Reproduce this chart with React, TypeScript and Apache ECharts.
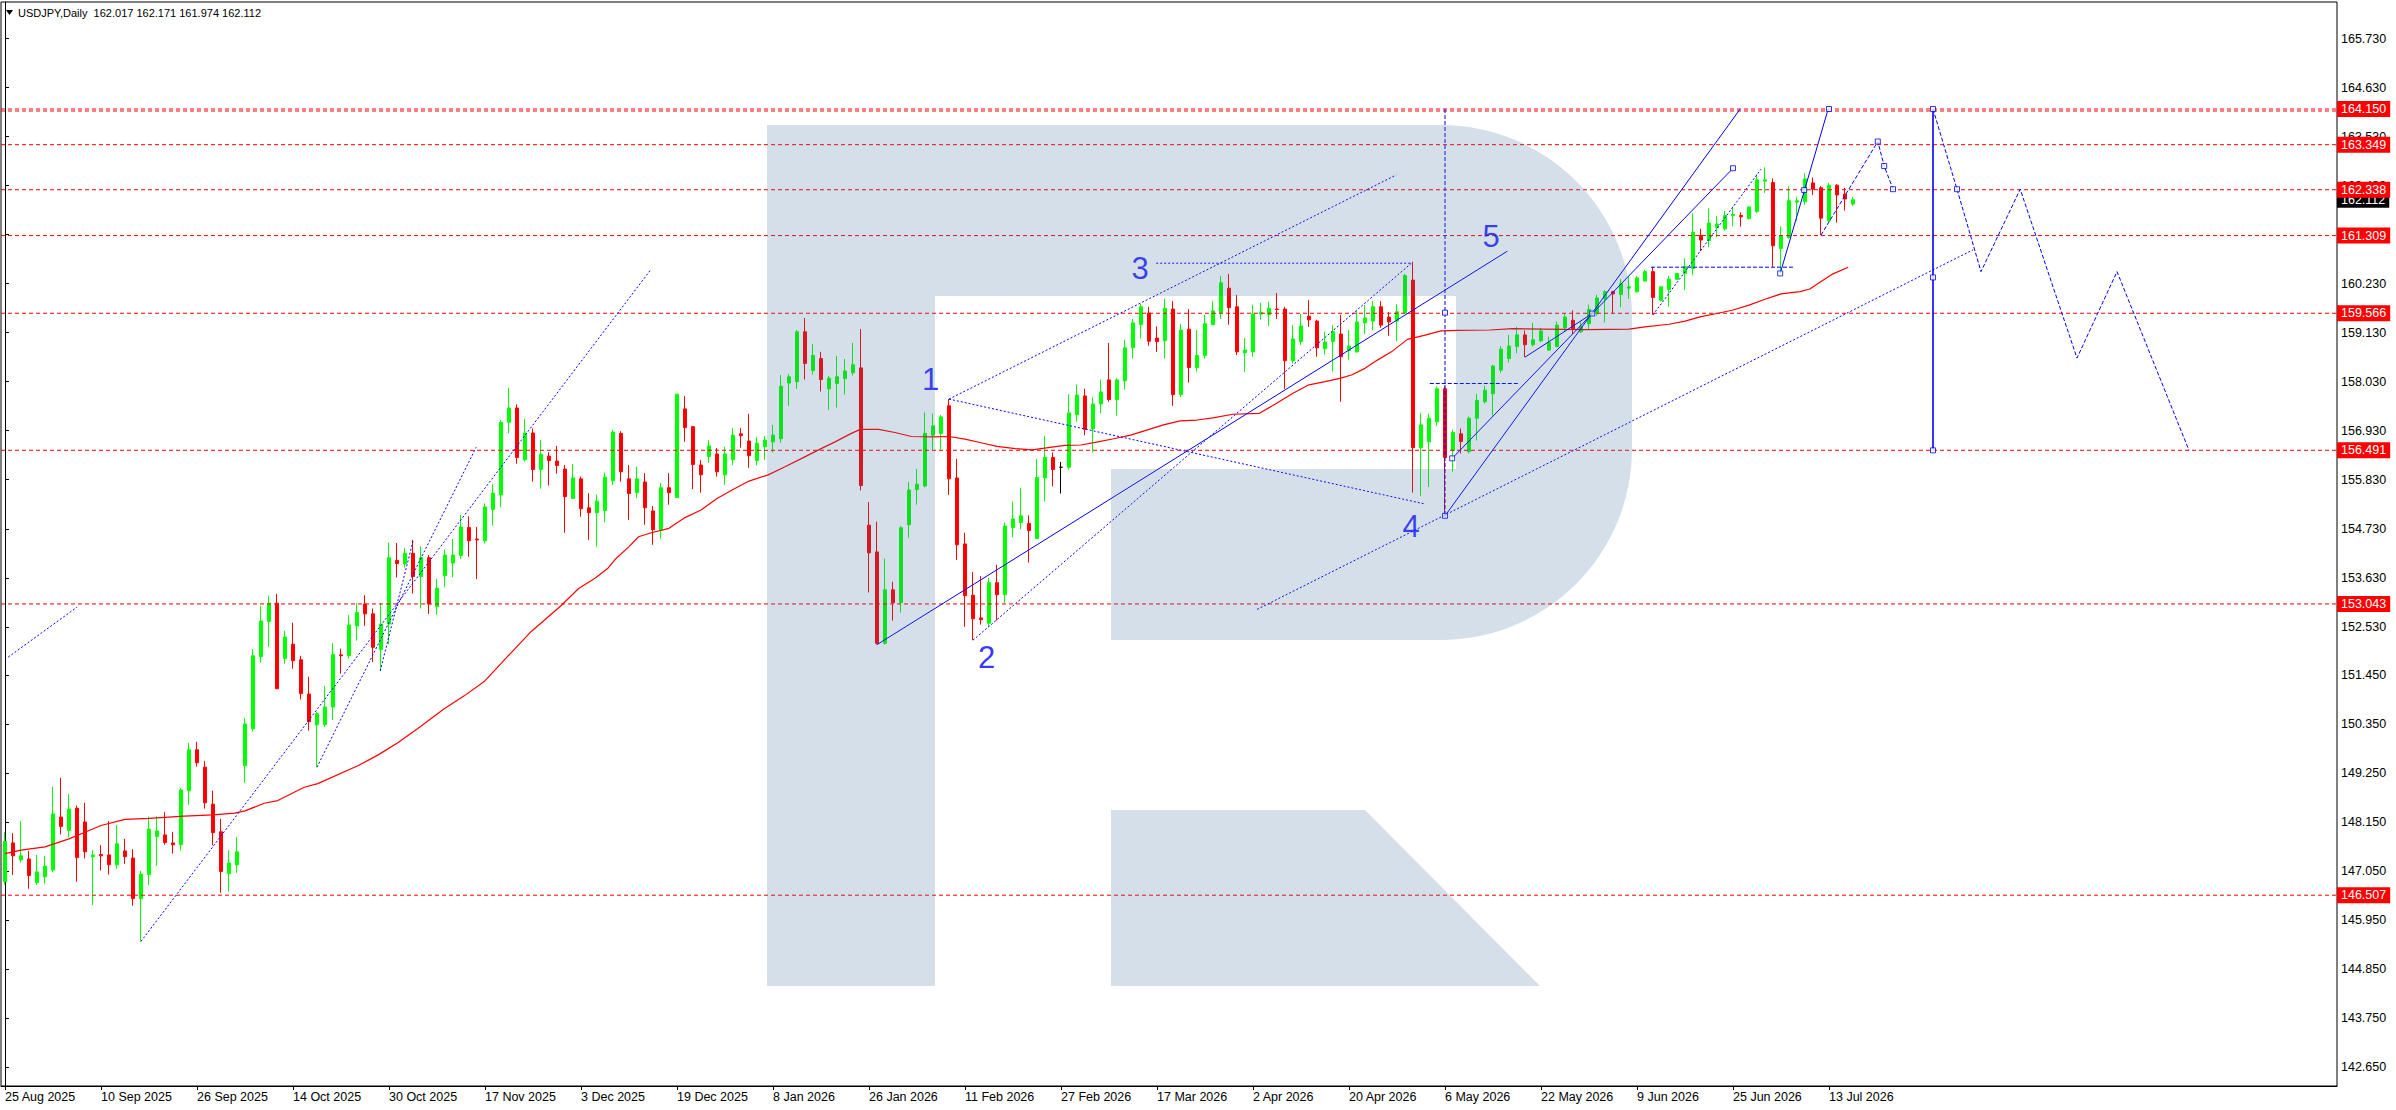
import React, { useEffect, useRef } from "react";
import * as echarts from "echarts";

const W = 2396;
const H = 1110;
const FONT = '"Liberation Sans", Arial, sans-serif';

// ---- data -------------------------------------------------------------
// daily candles [open, high, low, close], index 0 = 25 Aug 2025
const CANDLES: number[][] = [
  [146.81,147.92,146.74,147.71],[147.68,147.90,146.96,147.39],[147.30,148.17,147.24,147.39],[147.32,147.50,146.65,146.95],
  [146.79,147.41,146.74,147.03],[146.92,147.39,146.77,147.16],[147.07,148.94,147.03,148.33],[148.26,149.14,147.87,148.05],
  [147.96,148.78,147.80,148.44],[148.46,148.52,146.81,147.35],[148.15,148.58,147.33,147.48],[147.37,147.52,146.29,147.41],
  [147.42,147.63,147.06,147.39],[147.41,148.17,146.97,147.19],[147.19,148.08,147.10,147.66],[147.50,147.77,147.21,147.37],
  [147.34,147.54,146.27,146.43],[146.43,147.05,145.47,146.98],[146.97,148.27,146.74,147.99],[147.82,148.28,147.17,147.95],
  [147.86,148.37,147.64,147.69],[147.68,147.93,147.44,147.64],[147.64,148.91,147.51,148.87],[148.85,149.92,148.54,149.77],
  [149.77,149.95,149.39,149.48],[149.38,149.52,148.45,148.58],[148.55,148.85,147.63,147.91],[147.93,148.22,146.56,147.04],
  [146.99,147.52,146.59,147.23],[147.19,147.81,147.01,147.48],[149.41,150.48,149.03,150.35],[150.24,152.03,150.18,151.88],
  [151.86,153.00,151.73,152.66],[152.65,153.23,152.08,153.06],[153.06,153.27,151.14,151.14],[151.82,152.44,151.70,152.30],
  [152.14,152.62,151.59,151.77],[151.79,151.88,150.90,151.03],[151.02,151.41,150.20,150.40],[150.33,150.62,149.38,150.58],
  [150.33,151.20,150.28,150.73],[150.73,152.16,150.44,151.91],[151.90,152.04,151.48,151.88],[151.88,152.79,151.82,152.57],
  [152.55,153.06,152.22,152.85],[153.04,153.24,152.55,152.82],[152.82,152.94,151.74,152.07],[152.02,153.06,151.54,152.59],
  [152.59,154.42,152.14,154.08],[154.02,154.41,153.64,153.95],[153.94,154.30,153.86,154.18],[154.18,154.48,153.28,153.66],
  [153.66,154.34,152.94,154.08],[154.08,154.14,152.82,153.04],[152.98,153.60,152.80,153.40],[153.68,154.26,153.42,154.14],
  [153.96,154.50,153.64,154.14],[154.13,155.04,154.05,154.77],[154.76,155.01,154.10,154.46],[154.50,154.77,153.60,154.48],
  [154.46,155.30,154.40,155.22],[155.16,155.73,154.80,155.53],[155.49,157.17,155.21,157.12],[157.12,157.89,156.87,157.44],
  [157.44,157.52,156.19,156.33],[156.28,157.19,156.24,156.88],[156.88,156.98,155.79,156.06],[156.06,156.72,155.63,156.40],
  [156.36,156.45,155.70,156.26],[156.25,156.59,155.97,156.15],[156.07,156.16,154.64,155.45],[155.41,156.18,155.41,155.87],
  [155.85,155.90,155.00,155.18],[155.20,155.53,154.48,155.09],[155.09,155.50,154.33,155.35],[155.14,155.99,154.88,155.89],
  [155.81,156.95,155.71,156.90],[156.87,156.92,155.79,156.01],[155.85,156.16,154.93,155.52],[155.54,156.12,155.42,155.85],
  [155.78,155.98,154.82,155.20],[155.13,155.24,154.37,154.71],[154.70,155.76,154.51,155.65],[155.65,155.98,155.27,155.54],
  [155.43,157.75,155.43,157.75],[157.42,157.71,156.68,157.00],[157.02,157.04,155.62,156.17],[156.16,156.27,155.54,155.94],
  [156.35,156.72,156.21,156.59],[156.41,156.54,155.90,156.01],[155.94,156.57,155.72,156.41],[156.28,156.99,156.16,156.83],
  [156.86,156.99,156.55,156.82],[156.70,157.31,156.10,156.37],[156.26,156.79,156.15,156.65],[156.57,156.81,156.28,156.72],
  [156.68,157.06,156.44,156.83],[156.75,158.18,156.66,157.93],[158.00,158.20,157.49,158.14],[158.03,159.19,157.87,159.15],
  [159.15,159.46,158.08,158.44],[158.28,158.88,158.19,158.62],[158.55,158.70,157.81,158.08],[157.87,158.16,157.40,158.11],
  [157.99,158.61,157.45,158.14],[158.10,158.54,157.74,158.27],[158.23,158.90,158.17,158.41],[158.34,159.21,155.59,155.70],
  [154.81,155.33,153.30,154.19],[154.21,154.89,152.13,152.16],[152.16,154.06,152.13,153.36],[153.36,153.54,152.67,153.07],
  [153.07,154.79,152.85,154.75],[154.82,155.78,154.53,155.60],[155.61,156.07,155.27,155.73],[155.69,157.34,155.66,156.87],
  [156.83,157.32,156.50,157.04],[156.87,157.28,156.50,157.24],[157.49,157.64,155.49,155.85],[155.87,156.30,154.03,154.37],
  [154.39,154.64,152.53,153.23],[153.24,153.76,152.23,152.71],[152.73,153.67,152.58,152.69],[152.61,153.63,152.53,153.52],
  [153.52,153.92,152.67,153.25],[153.25,154.87,153.06,154.79],[154.76,155.34,154.54,154.95],[154.87,155.65,154.72,155.02],
  [154.85,155.03,153.97,154.69],[154.51,156.29,154.51,155.88],[155.87,156.81,155.34,156.33],[156.33,156.44,155.68,156.06],
  [156.11,156.23,155.52,156.11],[156.11,157.75,156.06,157.33],[157.29,157.96,157.13,157.73],[157.71,157.87,156.83,156.96],
  [156.97,157.68,156.44,157.53],[157.53,158.08,157.32,157.80],[158.07,158.90,157.58,157.63],[157.63,158.11,157.27,158.07],
  [158.05,158.97,157.85,158.79],[158.79,159.44,158.55,159.35],[159.31,159.77,159.00,159.71],[159.57,159.71,158.84,158.94],
  [159.01,159.27,158.70,158.93],[158.95,159.89,158.55,159.68],[159.66,159.84,157.49,157.74],[157.74,159.33,157.68,159.19],
  [159.21,159.66,158.01,158.35],[158.35,159.19,158.26,158.62],[158.62,159.53,158.55,159.33],[159.31,159.84,159.30,159.62],
  [159.58,160.40,159.44,160.25],[160.13,160.45,159.31,159.69],[159.71,159.98,158.63,158.70],[158.68,159.01,158.25,158.74],
  [158.70,159.75,158.59,159.55],[159.55,159.80,159.42,159.59],[159.53,159.82,159.28,159.68],[159.66,160.02,159.44,159.65],
  [159.66,159.71,157.87,158.50],[158.50,159.30,158.44,158.99],[158.93,159.55,158.86,159.28],[159.50,159.86,159.26,159.42],
  [159.39,159.42,158.59,158.79],[158.77,159.15,158.64,158.92],[158.93,159.30,158.26,159.15],[159.10,159.53,157.58,158.59],
  [158.73,159.19,158.52,158.83],[158.70,159.62,158.68,159.37],[159.35,159.75,159.10,159.46],[159.39,159.84,159.19,159.71],
  [159.71,159.84,159.24,159.30],[159.48,159.59,159.06,159.37],[159.39,159.77,158.94,159.60],[159.57,160.45,159.57,160.41],
  [160.31,160.72,155.54,156.55],[156.55,157.33,155.47,157.06],[156.68,157.31,155.67,157.21],[157.13,157.92,157.04,157.87],
  [157.87,157.92,155.02,156.33],[156.48,156.95,156.01,156.89],[156.86,156.98,156.42,156.69],[156.46,157.25,156.42,157.21],
  [157.21,157.76,156.71,157.61],[157.58,157.94,157.54,157.84],[157.76,158.41,157.27,158.38],[158.29,158.83,158.23,158.76],
  [158.55,159.08,158.46,158.83],[158.82,159.26,158.67,159.08],[159.08,159.18,158.58,158.86],[158.86,159.35,158.82,158.97],
  [158.95,159.24,158.92,159.17],[158.74,159.04,158.72,158.91],[158.82,159.38,158.80,159.30],[159.24,159.56,159.15,159.48],
  [159.41,159.63,159.10,159.22],[159.15,159.38,159.12,159.27],[159.33,159.76,159.20,159.65],[159.56,159.98,159.51,159.91],
  [159.89,160.08,159.36,160.05],[160.05,160.07,159.56,160.00],[159.99,160.33,159.70,160.23],[160.13,160.38,159.89,160.16],
  [160.05,160.40,160.03,160.36],[160.29,160.54,160.28,160.50],[160.50,160.60,159.53,159.92],[159.86,160.18,159.83,160.16],
  [160.10,160.40,159.71,160.33],[160.33,160.47,160.31,160.46],[160.46,160.80,160.09,160.61],[160.57,161.81,160.42,161.38],
  [161.31,161.46,160.96,161.21],[161.20,161.92,161.05,161.59],[161.49,161.75,161.27,161.57],[161.46,161.86,161.42,161.76],
  [161.76,161.96,161.52,161.78],[161.76,161.83,161.51,161.73],[161.69,161.97,161.67,161.95],[161.85,162.68,161.82,162.56],
  [162.53,162.84,162.27,162.56],[162.50,162.59,160.61,161.08],[161.02,161.52,160.51,161.31],[161.26,162.42,161.24,162.09],
  [162.06,162.18,161.64,162.09],[162.07,162.71,162.00,162.58],[162.49,162.61,162.22,162.35],[162.38,162.42,161.32,161.70],
  [161.64,162.49,161.62,162.44],[162.44,162.46,161.60,162.22],[162.24,162.38,161.87,162.13],[162.017,162.171,161.974,162.112],
];
const DOJI_BLACK = [132];

// moving average: [bar index, value]
const MA_POINTS: number[][] = [
  [0,147.44],[2,147.52],[5,147.59],[8,147.77],[10,147.92],[12,148.07],[15,148.21],[18,148.23],[22.4,148.28],[26,148.31],
  [28.7,148.35],[30,148.40],[32.4,148.57],[34.1,148.63],[37.4,148.93],[39.1,149.01],[44.1,149.41],[46.6,149.65],[49.1,149.93],
  [51.6,150.25],[54.9,150.69],[57.4,150.98],[59.9,151.30],[62.8,151.86],[65.75,152.42],[69.6,153.02],[71.7,153.39],[73.75,153.62],
  [75.4,153.85],[76.25,154.04],[78,154.33],[79.2,154.55],[80.8,154.64],[83,154.74],[85,154.98],[87,155.15],[89,155.41],[91,155.61],
  [93,155.80],[95.4,155.94],[97.5,156.12],[99.6,156.31],[101.7,156.50],[103.75,156.68],[105.8,156.87],[106.9,156.96],[109.2,156.96],
  [111.25,156.89],[113.3,156.80],[116,156.79],[118,156.80],[120,156.74],[122,156.66],[124,156.58],[126.3,156.53],[128.4,156.50],
  [130.4,156.55],[132.5,156.60],[134.5,156.61],[136.6,156.68],[138.6,156.75],[140.7,156.83],[142.8,156.95],[144.8,157.06],
  [146.9,157.15],[149,157.17],[151,157.22],[153.5,157.30],[156.8,157.32],[158.9,157.54],[161,157.77],[163,157.96],[165,158.03],
  [167,158.11],[168.3,158.18],[170,158.33],[171.6,158.52],[173.3,158.70],[175.3,158.98],[177.4,159.07],[179.5,159.17],[181.5,159.18],
  [185.6,159.19],[188.5,159.22],[192.2,159.21],[197.6,159.20],[203,159.21],[205,159.26],[208,159.32],[210,159.39],[212,159.49],
  [214,159.56],[216,159.64],[218,159.75],[220,159.88],[222,160.00],[224.4,160.05],[225.6,160.11],[227.3,160.31],[228.5,160.45],
  [230.4,160.60],
];

// x axis
const N_SLOTS = 292;
const DATE_LABELS: [number, string][] = [
  [0,"25 Aug 2025"],[12,"10 Sep 2025"],[24,"26 Sep 2025"],[36,"14 Oct 2025"],[48,"30 Oct 2025"],
  [60,"17 Nov 2025"],[72,"3 Dec 2025"],[84,"19 Dec 2025"],[96,"8 Jan 2026"],[108,"26 Jan 2026"],
  [120,"11 Feb 2026"],[132,"27 Feb 2026"],[144,"17 Mar 2026"],[156,"2 Apr 2026"],[168,"20 Apr 2026"],
  [180,"6 May 2026"],[192,"22 May 2026"],[204,"9 Jun 2026"],[216,"25 Jun 2026"],[228,"13 Jul 2026"],
];

// y axis
const Y_MIN = 142.225;
const Y_MAX = 166.551;
const Y_TICKS = [142.65,143.75,144.85,145.95,147.05,148.15,149.25,150.35,151.45,152.53,153.63,154.73,
  155.83,156.93,158.03,159.13,160.23,161.33,162.43,163.53,164.63,165.73];
const LEVEL_LABELS = [164.150,163.349,162.338,161.309,159.566,156.491,153.043,146.507];
const LEVEL_LINES = [164.150,164.105,163.349,162.338,161.309,159.566,156.491,153.043,146.507];
const LAST_PRICE = 162.112;
const TITLE = "USDJPY,Daily  162.017 162.171 161.974 162.112";

// analysis drawings: points are [bar index, price]
const DRAWINGS: { pts: number[][]; kind: string; w?: number }[] = [
  { pts: [[0.4,151.85],[9.0,152.97]], kind: "dot" },
  { pts: [[17,145.47],[80.7,160.54]], kind: "dot" },
  { pts: [[39,149.38],[58.9,156.56]], kind: "dot" },
  { pts: [[46.9,151.54],[51,154.45]], kind: "dot" },
  { pts: [[118,157.64],[173.9,162.67]], kind: "dot" },
  { pts: [[118,157.64],[177.4,155.29]], kind: "dot" },
  { pts: [[143.9,160.69],[175.75,160.69]], kind: "dot" },
  { pts: [[121,152.23],[176,160.72]], kind: "dot" },
  { pts: [[109,152.13],[187.8,160.96]], kind: "solid" },
  { pts: [[180,164.15],[180,155.02]], kind: "dash" },
  { pts: [[178.1,157.99],[189.1,157.99]], kind: "dash" },
  { pts: [[180,155.02],[216.9,164.15]], kind: "solid" },
  { pts: [[180.9,156.31],[216,162.82]], kind: "solid" },
  { pts: [[190,158.58],[198.4,159.56]], kind: "solid" },
  { pts: [[156.5,152.92],[246,160.99]], kind: "dot" },
  { pts: [[205.75,160.60],[223.5,160.60]], kind: "dash" },
  { pts: [[221.9,160.46],[227.9,164.15]], kind: "solid" },
  { pts: [[206,159.53],[219.5,162.8]], kind: "dot" },
  { pts: [[227,161.32],[234.1,163.42],[234.9,162.87],[236,162.35]], kind: "dash" },
  { pts: [[241,164.15],[241,156.49]], kind: "solid", w: 1.6 },
  { pts: [[241,164.15],[244,162.35],[247,160.50],[251.9,162.35],[259,158.56],[264,160.50],[273,156.49]], kind: "dash" },
];
const ANCHORS: number[][] = [
  [180,155.02],[180.9,156.31],[180,159.58],[198.4,159.56],[216,162.82],[221.9,160.46],[224.9,162.33],
  [228,164.15],[234.1,163.42],[234.9,162.87],[236,162.35],[241,164.15],[241,160.37],[241,156.49],[244,162.35],
];
const WAVE_LABELS: [string, number, number][] = [
  ["1",115.7,158.07],["2",122.7,151.85],["3",141.9,160.575],["4",175.75,154.78],["5",185.75,161.28],
];

// watermark outline (pixels)
const LOGO_D = "M767 125 H1441 A191 191 0 0 1 1632 316 V449 A191 191 0 0 1 1441 640 H1111 V469 H1456 V296 H935 V986 H767 Z";
const LEG_D = "M1111 810 H1365 L1540 986 H1111 Z";

echarts.graphic.registerShape("rfLogo", echarts.graphic.extendPath(LOGO_D, {}));
echarts.graphic.registerShape("rfLeg", echarts.graphic.extendPath(LEG_D, {}));

function buildOption(): any {
  const labelMap = new Map<number, string>(DATE_LABELS);
  const cats = Array.from({ length: N_SLOTS }, (_, k) => String(k));
  const candleData = CANDLES.map((c, i) => {
    const v = [c[0], c[3], c[2], c[1]];
    if (DOJI_BLACK.includes(i)) {
      return { value: v, itemStyle: { color: "#000", color0: "#000", borderColor: "#000", borderColor0: "#000" } };
    }
    return v;
  });
  const dashFor = (k: string) => (k === "dot" ? [2, 2] : k === "dash" ? [4, 2] : "solid");

  const series: any[] = [
    {
      type: "candlestick",
      xAxisIndex: 0,
      yAxisIndex: 0,
      data: candleData,
      barWidth: 4,
      silent: true,
      itemStyle: { color: "#00ff00", color0: "#ff0000", borderColor: "#00ff00", borderColor0: "#ff0000", borderWidth: 1 },
    },
    {
      type: "line",
      xAxisIndex: 1,
      yAxisIndex: 0,
      data: MA_POINTS,
      symbol: "none",
      silent: true,
      lineStyle: { color: "#ff0000", width: 1.2 },
      z: 3,
    },
  ];
  LEVEL_LINES.forEach((v) => {
    series.push({
      type: "line",
      xAxisIndex: 1,
      yAxisIndex: 0,
      data: [[-0.5, v], [N_SLOTS - 0.5, v]],
      symbol: "none",
      silent: true,
      lineStyle: { color: "#ff0000", width: 1, type: [4, 3] },
      z: 4,
    });
  });
  DRAWINGS.forEach((d) => {
    series.push({
      type: "line",
      xAxisIndex: 1,
      yAxisIndex: 0,
      data: d.pts,
      symbol: "none",
      silent: true,
      lineStyle: { color: "#0000ff", width: d.w ?? 1, type: dashFor(d.kind) },
      z: 5,
    });
  });
  series.push({
    type: "scatter",
    xAxisIndex: 1,
    yAxisIndex: 0,
    data: ANCHORS,
    symbol: "rect",
    symbolSize: 5,
    silent: true,
    itemStyle: { color: "#ffffff", borderColor: "#0000ff", borderWidth: 1 },
    z: 6,
  });
  series.push({
    type: "scatter",
    xAxisIndex: 1,
    yAxisIndex: 0,
    data: WAVE_LABELS.map((w) => ({ name: w[0], value: [w[1], w[2]] })),
    symbolSize: 1,
    silent: true,
    itemStyle: { color: "transparent" },
    label: {
      show: true,
      position: "inside",
      formatter: (p: any) => p.name,
      fontSize: 31,
      fontFamily: FONT,
      color: "#0000ff",
    },
    z: 7,
  });

  const sideAxis = (values: number[], bg: string) => ({
    type: "value",
    position: "right",
    min: Y_MIN,
    max: Y_MAX,
    axisLine: { show: false },
    axisTick: { show: false },
    splitLine: { show: false },
    axisLabel: {
      customValues: values,
      formatter: (v: number) => v.toFixed(3),
      color: "#ffffff",
      backgroundColor: bg,
      padding: [2, 4, 1, 4],
      lineHeight: 13,
      margin: 0,
      fontSize: 12.5,
      fontFamily: FONT,
    },
  });

  return {
    animation: false,
    backgroundColor: "#ffffff",
    grid: {
      left: 1,
      right: 59,
      top: 2,
      bottom: 24,
      show: true,
      borderColor: "#000",
      borderWidth: 1,
      backgroundColor: "transparent",
    },
    xAxis: [
      {
        type: "category",
        data: cats,
        boundaryGap: true,
        axisLine: { show: true, lineStyle: { color: "#000" } },
        axisTick: {
          show: true,
          alignWithLabel: true,
          interval: (i: number) => labelMap.has(i),
          length: 4,
          lineStyle: { color: "#000" },
        },
        axisLabel: {
          interval: 0,
          formatter: (_v: string, i: number) => labelMap.get(i) ?? "",
          align: "left",
          margin: 4,
          color: "#000",
          fontSize: 12.5,
          fontFamily: FONT,
        },
        splitLine: { show: false },
      },
      { type: "value", min: -0.5, max: N_SLOTS - 0.5, show: false },
    ],
    yAxis: [
      {
        type: "value",
        position: "right",
        min: Y_MIN,
        max: Y_MAX,
        axisLine: { show: true, lineStyle: { color: "#000" } },
        axisTick: { show: true, customValues: Y_TICKS, length: 4, lineStyle: { color: "#000" } },
        axisLabel: {
          customValues: Y_TICKS,
          formatter: (v: number) => v.toFixed(3),
          color: "#000",
          margin: 4,
          fontSize: 12.5,
          fontFamily: FONT,
        },
        splitLine: { show: false },
      },
      sideAxis([LAST_PRICE], "#000000"),
      sideAxis(LEVEL_LABELS, "#ff0000"),
    ],
    graphic: {
      elements: [
        {
          type: "rfLogo",
          x: 0,
          y: 0,
          silent: true,
          z: 50,
          style: { fill: "rgba(64,109,155,0.22)" },
        },
        {
          type: "rfLeg",
          x: 0,
          y: 0,
          silent: true,
          z: 50,
          style: { fill: "rgba(64,109,155,0.22)" },
        },
        {
          type: "polygon",
          silent: true,
          z: 60,
          shape: { points: [[6, 10], [13, 10], [9.5, 15]] },
          style: { fill: "#000" },
        },
        {
          type: "text",
          x: 18,
          y: 13,
          silent: true,
          z: 60,
          style: {
            text: TITLE,
            fill: "#000",
            font: '11px "Liberation Sans", Arial, sans-serif',
            verticalAlign: "middle",
            textVerticalAlign: "middle",
          },
        },
      ],
    },
    series,
  };
}

export default function App() {
  const ref = useRef<HTMLDivElement>(null);
  useEffect(() => {
    if (!ref.current) return;
    const chart = echarts.init(ref.current, null, { renderer: "svg" });
    chart.setOption(buildOption());
    return () => chart.dispose();
  }, []);
  return (
    <div
      ref={ref}
      style={{ position: "fixed", left: 0, top: 0, width: W, height: H, background: "#fff" }}
    />
  );
}
